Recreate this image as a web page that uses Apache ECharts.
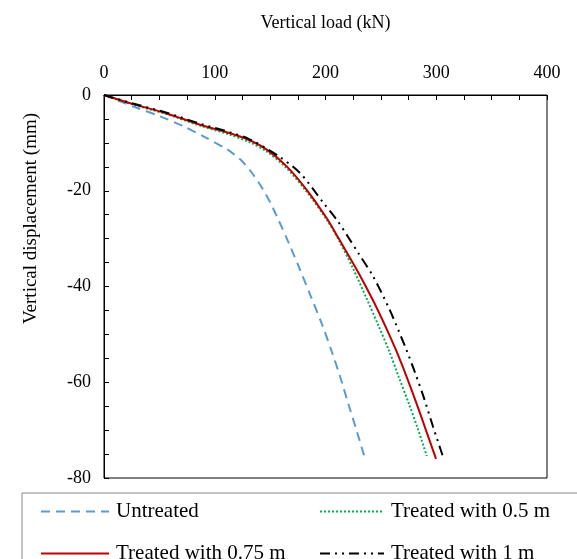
<!DOCTYPE html>
<html>
<head>
<meta charset="utf-8">
<script src="https://cdn.jsdelivr.net/npm/echarts@6/dist/echarts.min.js"></script>
<style>
html,body{margin:0;padding:0;background:#fff;}
#chart{width:577px;height:559px;}
</style>
</head>
<body>
<div id="chart"></div>
<script>
// Data (load kN, displacement mm)
const untreated = [[0,0],[26.5,-2.4],[50,-4.4],[71.6,-6.5],[92.7,-9],[110.8,-11.3],[118,-12.5],[125,-13.9],[134,-16.4],[143.8,-19.8],[150,-22.4],[157,-25.8],[167,-31],[177,-36.5],[187,-42.2],[197.5,-48.3],[205.5,-53.5],[213,-58.7],[221,-64.8],[228.5,-70.4],[235.5,-75.8]];
const treated05 = [[0,0],[25,-1.9],[56.6,-4.0],[86.7,-6.4],[113.8,-8.3],[131,-9.8],[146.9,-11.8],[165,-15.3],[183,-20.2],[201,-26],[212.5,-30.5],[225,-36.3],[237.5,-42.7],[247.5,-48],[257,-53.2],[266,-58.8],[275,-64.3],[283.5,-69.8],[291.4,-75.4]];
const treated075 = [[0,0],[25,-1.8],[56.6,-3.85],[86.7,-6.2],[113.8,-8.0],[131,-9.4],[146.9,-11.4],[165,-14.9],[183,-19.8],[201,-25.7],[212.5,-30.2],[228,-36.4],[242.5,-42.7],[253.5,-48],[263.5,-53.2],[273,-58.7],[282,-64.3],[291,-70.2],[299.8,-76]];
const treated1 = [[0,0],[25,-1.7],[56.6,-3.7],[86.7,-6.0],[113.8,-7.8],[131,-9.2],[155.9,-12.5],[177,-16.3],[198,-22.5],[210,-26],[220,-29.5],[229.6,-33],[243,-37.9],[258,-44.9],[273,-53.2],[281,-58.1],[288.5,-63],[297,-69.2],[306,-75.5]];
const seriesNames = ['Untreated','Treated with 0.5 m','Treated with 0.75 m','Treated with 1 m'];
const xTitle = 'Vertical load (kN)';
const yTitle = 'Vertical displacement (mm)';

const FONT = "'Liberation Serif','Times New Roman',serif";
const chart = echarts.init(document.getElementById('chart'));

function legendAt(name, left, top, w){
  return {
    data:[name], left:left, top:top, orient:'horizontal',
    itemWidth:w, itemHeight:14, itemGap:0, padding:0,
    itemStyle:{opacity:0},
    textStyle:{fontFamily:FONT,fontSize:21,color:'#000',padding:[0,0,0,2]},
    selectedMode:false
  };
}

chart.setOption({
  animation:false,
  backgroundColor:'#fff',
  grid:{left:104,top:95,width:443,height:383,show:true,borderColor:'#000',borderWidth:1,containLabel:false},
  graphic:[{type:'rect',shape:{x:22,y:493,width:600,height:100},style:{fill:'none',stroke:'#888',lineWidth:1},silent:true}],
  legend:[
    legendAt(seriesNames[0],40,501,68),
    legendAt(seriesNames[1],319,501,64),
    legendAt(seriesNames[2],40,543,68),
    legendAt(seriesNames[3],319,543,64)
  ],
  xAxis:{
    type:'value',position:'top',min:0,max:400,interval:100,
    name:xTitle,nameLocation:'middle',nameGap:63,
    nameTextStyle:{fontFamily:FONT,fontSize:18,color:'#000'},
    axisLine:{show:true,lineStyle:{color:'#000',width:1}},
    axisTick:{show:true,inside:true,length:5,lineStyle:{color:'#000'}},
    minorTick:{show:true,splitNumber:4,length:5,lineStyle:{color:'#000'}},
    axisLabel:{fontFamily:FONT,fontSize:18,color:'#000',margin:13},
    splitLine:{show:false}
  },
  yAxis:{
    type:'value',min:-80,max:0,interval:20,
    name:yTitle,nameLocation:'middle',nameGap:63,nameRotate:90,
    nameTextStyle:{fontFamily:FONT,fontSize:19,color:'#000',padding:[0,0,0,136]},
    axisLine:{show:true,lineStyle:{color:'#000',width:1}},
    axisTick:{show:true,inside:true,length:5,lineStyle:{color:'#000'}},
    minorTick:{show:true,splitNumber:4,length:5,lineStyle:{color:'#000'}},
    axisLabel:{fontFamily:FONT,fontSize:18,color:'#000',margin:13},
    splitLine:{show:false}
  },
  series:[
    {name:seriesNames[0],type:'line',data:untreated,symbol:'none',smooth:0.3,
     itemStyle:{color:'#5B9BD5'},lineStyle:{color:'#5B9BD5',width:2,type:[9,6]}},
    {name:seriesNames[1],type:'line',data:treated05,symbol:'none',smooth:0.3,
     itemStyle:{color:'#00B050'},lineStyle:{color:'#00B050',width:2,type:[2,2]}},
    {name:seriesNames[2],type:'line',data:treated075,symbol:'none',smooth:0.3,
     itemStyle:{color:'#C00000'},lineStyle:{color:'#C00000',width:2,type:'solid'}},
    {name:seriesNames[3],type:'line',data:treated1,symbol:'none',smooth:0.3,
     itemStyle:{color:'#000'},lineStyle:{color:'#000',width:2,type:[10,5,2,5,2,5]}}
  ]
});
</script>
</body>
</html>
